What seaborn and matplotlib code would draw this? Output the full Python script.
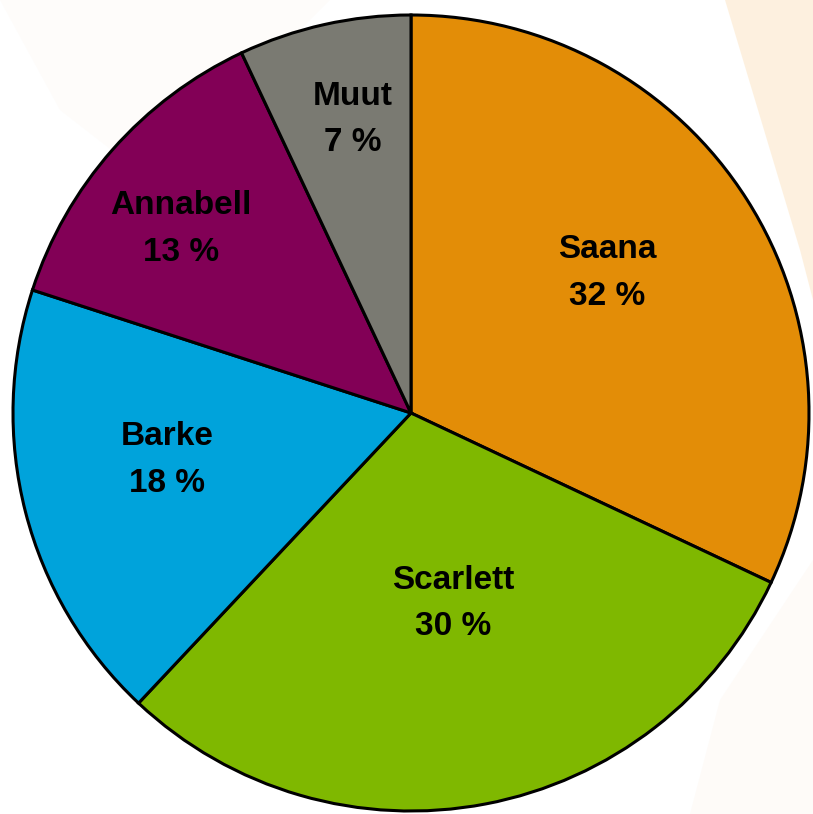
import numpy as np
import matplotlib
matplotlib.use('Agg')
from matplotlib import pyplot as plt
from matplotlib.patches import Polygon
import seaborn as sns

sns.set_theme(style='white')
plt.rcParams['font.family'] = ['Liberation Sans', 'DejaVu Sans']

# data
varieties = ['Saana', 'Scarlett', 'Barke', 'Annabell', 'Muut']
shares = [32, 30, 18, 13, 7]
colors = ['#E38D07', '#7FB800', '#00A3DB', '#820056', '#7A7A72']
# label placement: radial fraction and angle nudge (deg) from slice middle
label_dist = [0.605, 0.49, 0.624, 0.74, 0.751]
label_nudge = [3.1, 1.6, -3.5, 2.7, -1.4]

fig = plt.figure(figsize=(8.13, 8.14), dpi=100)

# faint decorative background band
bg = fig.add_axes([0, 0, 1, 1])
bg.set_xlim(0, 813)
bg.set_ylim(814, 0)
bg.axis('off')
bg.add_patch(Polygon([[725, 0], [813, 0], [813, 300], [800, 250]],
                     closed=True, color='#FDEBD2', alpha=0.7, lw=0))
bg.add_patch(Polygon([[0, 0], [330, 0], [150, 180], [60, 110]],
                     closed=True, color='#FEFCFA', lw=0))
bg.add_patch(Polygon([[813, 560], [813, 814], [690, 814], [720, 700]],
                     closed=True, color='#FEFBF8', lw=0))

ax = fig.add_axes([13 / 813, 3 / 814, 796 / 813, 796 / 814])
wedges, _ = ax.pie(shares, colors=colors, startangle=90, counterclock=False,
                   wedgeprops=dict(edgecolor='black', linewidth=2.2))
for w in wedges:
    w.set_clip_on(False)
ax.set_xlim(-1, 1)
ax.set_ylim(-1, 1)
ax.set_aspect('equal')

total = sum(shares)
start = 90.0
for name, val, d, nudge in zip(varieties, shares, label_dist, label_nudge):
    mid = np.deg2rad(start - val / total * 360 / 2 + nudge)
    start -= val / total * 360
    ax.text(d * np.cos(mid), d * np.sin(mid), f'{name}\n{val} %',
            ha='center', va='center', fontsize=24, fontweight='bold',
            color='black', linespacing=1.64)

plt.savefig('out.png', dpi=100)
